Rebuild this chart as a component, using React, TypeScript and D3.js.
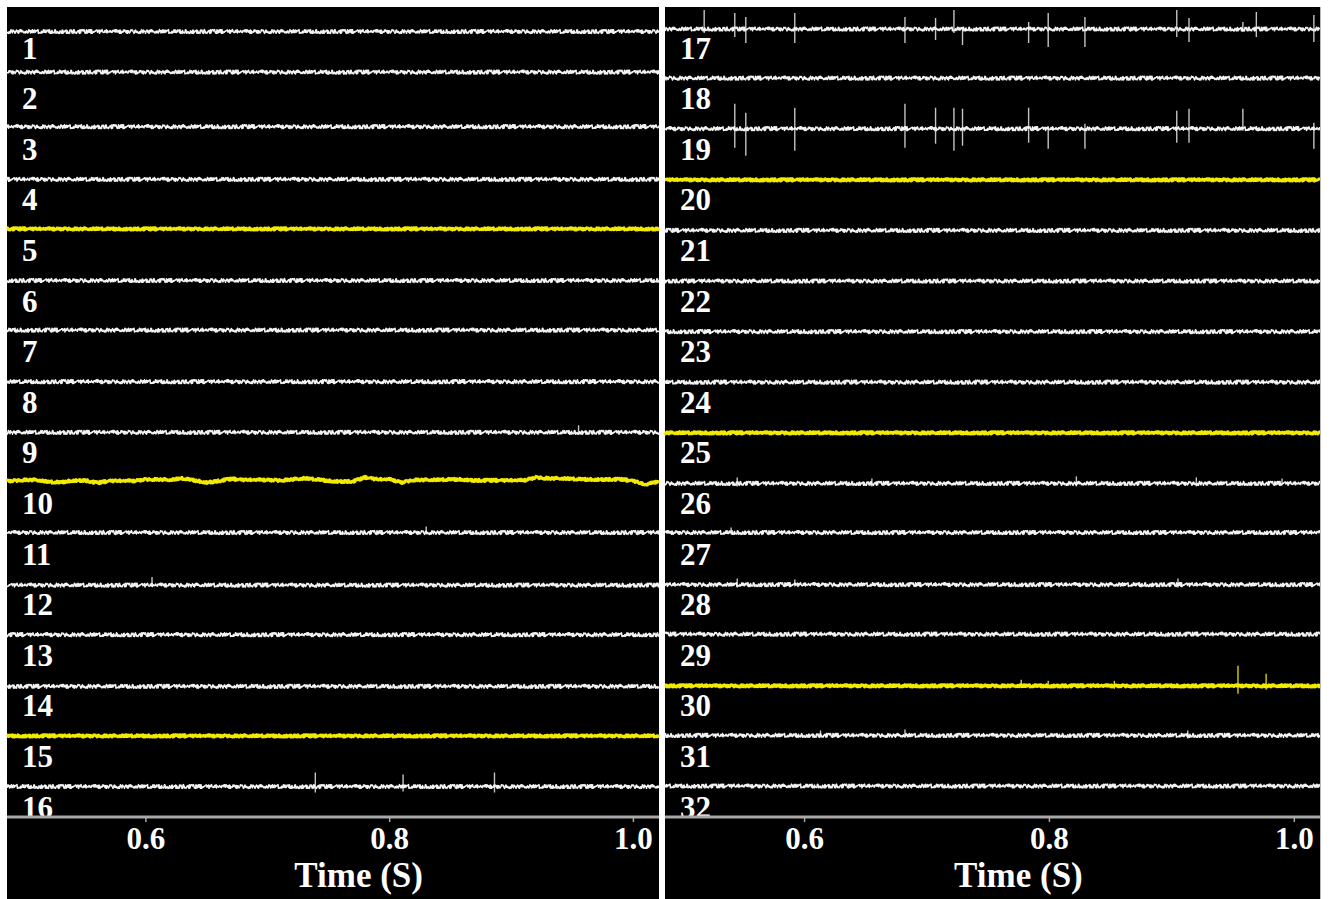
import React from "react";
import * as d3 from "d3";

// ---------- data ----------
const channels: number[] = d3.range(1, 33);
const yellowChannels: number[] = [5, 10, 15, 20, 25, 30];
// DC offsets (upward positive, in µV-like units = px)
const dcOffsets: number[] = [
  -4, 6, 2, 0, 1, 0, 1, 0, 0, 2, 1, -1, 0, -1, 0, 0,
  -1.5, 0, 0, -0.5, -0.5, -0.5, -0.5, -0.5, -0.5, -0.5, 1, -0.5, 0.5, -0.5, 0.5, 0.5,
];
const xTicks: number[] = [0.6, 0.8, 1.0];
const xTickLabels: string[] = ["0.6", "0.8", "1.0"];
const timeDomain: [number, number] = [0.486, 1.021];
const xTitle = "Time (S)";

// slow wander of channel 10, sampled every 10 ms from 0.49 s
const wander10Start = 0.49;
const wander10: number[] = [
  0, 1, 1, -1, -1.5, 0.5, 0.5, -2, 0, 0, 0, 1.5, 1.5, 1, 2.5, 0.5, -1.5, 0, 2, 1,
  1, 1, 0.5, 1.5, 2.5, 1.5, 0, -0.5, -0.5, 3.5, 1.5, 1.5, -1.5, 1, 1, 1, 1.5, 1.5, 0.5, 0.5,
  0.5, 0.5, 0.5, 3.5, 2.5, 2.5, 2, 1.5, 1.5, 1.5, 1.5, 0, -4, -0.5,
];

// background noise digits (hand typed)
const noiseDigits =
  "5274916308472519306482157390462873519406372915084691382746057291846035" +
  "1947283650836291504725197384606482719305937512804618364927507419358206" +
  "2958174630671429580338951624708261739504457028193616938472055028461937" +
  "938271605427461590838169350427453291876009184726353";

// spikes: [channel, time (s), up, down]
const spikeList: [number, number, number, number][] = [
  [16, 0.739, 14, 6], [16, 0.811, 12, 5], [16, 0.886, 14, 6],
  [17, 0.518, 19, 4], [17, 0.543, 16, 8], [17, 0.552, 12, 14], [17, 0.592, 16, 14],
  [17, 0.682, 12, 14], [17, 0.707, 11, 11], [17, 0.722, 19, 4], [17, 0.729, 2, 16],
  [17, 0.783, 7, 14], [17, 0.799, 16, 18], [17, 0.829, 12, 18], [17, 0.904, 19, 8],
  [17, 0.914, 11, 13], [17, 0.958, 7, 3], [17, 0.969, 17, 8], [17, 1.016, 14, 13],
  [19, 0.543, 25, 19], [19, 0.552, 16, 27], [19, 0.592, 21, 22], [19, 0.682, 25, 19],
  [19, 0.707, 21, 15], [19, 0.722, 21, 22], [19, 0.729, 20, 17], [19, 0.783, 21, 14],
  [19, 0.799, 2, 20], [19, 0.829, 5, 20], [19, 0.904, 18, 14], [19, 0.914, 20, 14],
  [19, 0.958, 20, 2], [19, 1.016, 6, 20],
  [30, 0.777, 6, 2], [30, 0.799, 5, 2], [30, 0.853, 5, 3], [30, 0.954, 20, 8], [30, 0.977, 12, 4],
  [9, 0.955, 7, 2], [12, 0.605, 8, 2], [11, 0.830, 6, 2],
  [26, 0.545, 6, 3], [26, 0.655, 5, 3], [26, 0.822, 7, 3], [26, 0.92, 6, 3], [26, 0.99, 5, 2],
  [27, 0.54, 5, 2], [28, 0.545, 6, 3], [28, 0.592, 5, 2], [28, 0.905, 6, 3],
  [31, 0.613, 5, 2], [31, 0.682, 6, 2], [31, 0.913, 5, 3],
];

// ---------- layout ----------
const W = 1331;
const H = 899;
const panelTop = 7;
const axisY = 817;
const panels = [
  { left: 7, right: 659, chans: channels.slice(0, 16) },
  { left: 665, right: 1320, chans: channels.slice(16, 32) },
];

const noiseVals = noiseDigits.split("").map((c) => (+c - 4.5) / 4.5);

function buildTrace(ch: number, x: d3.ScaleLinear<number, number>) {
  const [r0, r1] = x.range();
  const n = Math.round((r1 - r0) * 2);
  const isY = yellowChannels.includes(ch);
  const amp = isY ? 1.1 : 1.8;
  const wander =
    ch === 10
      ? d3
          .scaleLinear<number>()
          .domain(wander10.map((_, i) => wander10Start + i * 0.01))
          .range(wander10)
          .clamp(true)
      : null;
  const pts: { t: number; v: number }[] = [];
  for (let i = 0; i <= n; i++) {
    const t = x.invert(r0 + i / 2);
    const nv = noiseVals[(i * 7 + ch * 37) % noiseVals.length] * amp;
    pts.push({ t, v: nv + (wander ? wander(t) : 0) });
  }
  return pts;
}

export default function App() {
  const fontFamily = "'Liberation Serif', 'Times New Roman', serif";
  return (
    <svg
      width={W}
      height={H}
      style={{ position: "absolute", left: 0, top: 0, background: "#fff" }}
    >
      {panels.map((p, pi) => {
        const x = d3.scaleLinear().domain(timeDomain).range([p.left, p.right]);
        const yRow = d3.scaleLinear().domain([0, 15]).range([27.5, 786.5]);
        return (
          <g key={pi}>
            <rect x={p.left} y={panelTop} width={p.right - p.left} height={H - panelTop} fill="#000" />
            {p.chans.map((ch, ri) => {
              const base = yRow(ri) - dcOffsets[ch - 1];
              const pts = buildTrace(ch, x);
              const line = d3
                .line<{ t: number; v: number }>()
                .x((d) => x(d.t))
                .y((d) => base - d.v);
              const isY = yellowChannels.includes(ch);
              const spikes = spikeList.filter((s) => s[0] === ch);
              return (
                <g key={ch}>
                  {spikes.map(([, t, up, down], si) => (
                    <line
                      key={si}
                      x1={x(t)}
                      x2={x(t)}
                      y1={base - up}
                      y2={base + down}
                      stroke={isY ? "#d8d000" : "#c4c4c4"}
                      strokeWidth={1.4}
                    />
                  ))}
                  <path
                    d={line(pts) || ""}
                    fill="none"
                    stroke={isY ? "#f2ea00" : "#f2f2f2"}
                    strokeWidth={isY ? 3 : 1.6}
                    strokeLinejoin="round"
                  />
                  <text
                    x={p.left + 15}
                    y={yRow(ri) + 31}
                    fill="#fff"
                    fontFamily={fontFamily}
                    fontWeight="bold"
                    fontSize={31}
                  >
                    {ch}
                  </text>
                </g>
              );
            })}
            <line x1={p.left} x2={p.right} y1={axisY} y2={axisY} stroke="#a8a8a8" strokeWidth={3} />
            {xTicks.map((t, i) => (
              <g key={t} transform={`translate(${x(t)},0)`}>
                <line y1={axisY + 1} y2={axisY + 5} stroke="#a8a8a8" strokeWidth={1.5} />
                <text
                  y={849}
                  textAnchor="middle"
                  fill="#fff"
                  fontFamily={fontFamily}
                  fontWeight="bold"
                  fontSize={31}
                >
                  {xTickLabels[i]}
                </text>
              </g>
            ))}
            <text
              x={x(0.8) - 31}
              y={887}
              textAnchor="middle"
              fill="#fff"
              fontFamily={fontFamily}
              fontWeight="bold"
              fontSize={35}
            >
              {xTitle}
            </text>
          </g>
        );
      })}
      <line x1={1320.5} x2={1320.5} y1={panelTop} y2={H} stroke="#bbb" strokeWidth={1} />
    </svg>
  );
}
